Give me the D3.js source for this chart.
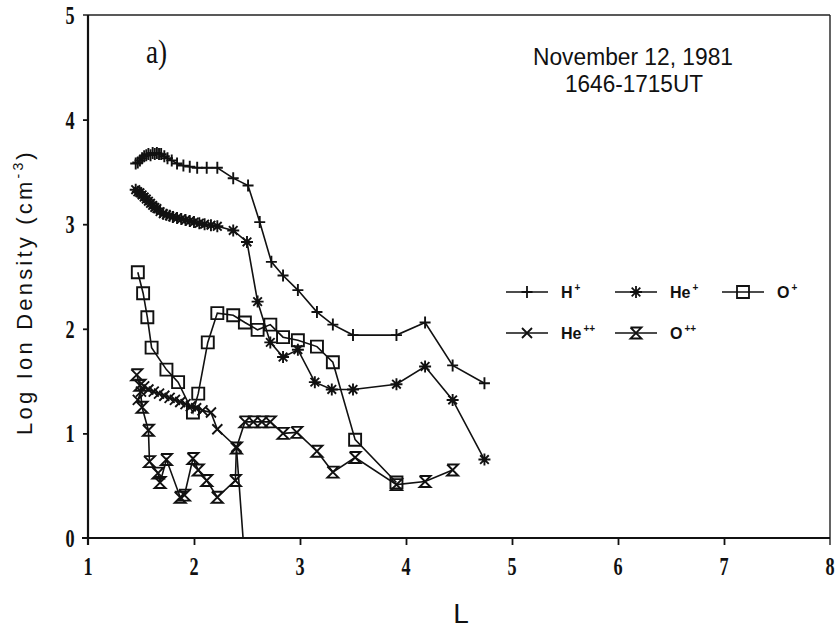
<!DOCTYPE html>
<html>
<head>
<meta charset="utf-8">
<script src="https://cdn.jsdelivr.net/npm/d3@7"></script>
<style>
  body { margin: 0; background: #fff; }
  svg { display: block; }
</style>
</head>
<body>
<script>
// ion density profiles vs L, Nov 12 1981
var hpL = [1.45,1.47,1.49,1.51,1.53,1.55,1.57,1.59,1.61,1.63,1.65,1.67,1.69,1.72,1.75,1.79,1.84,1.90,1.96,2.03,2.12,2.22,2.37,2.51,2.62,2.73,2.84,2.98,3.16,3.31,3.50,3.91,4.18,4.44,4.74];
var hpV = [3.58,3.59,3.61,3.63,3.65,3.66,3.67,3.66,3.68,3.67,3.68,3.67,3.67,3.65,3.63,3.61,3.58,3.56,3.55,3.54,3.54,3.54,3.44,3.37,3.02,2.64,2.51,2.37,2.16,2.04,1.94,1.94,2.06,1.65,1.48];

var hepL = [1.45,1.47,1.49,1.51,1.53,1.55,1.57,1.59,1.61,1.63,1.65,1.68,1.71,1.74,1.77,1.80,1.84,1.88,1.92,1.96,2.00,2.05,2.10,2.16,2.22,2.37,2.50,2.60,2.72,2.84,2.98,3.14,3.30,3.50,3.91,4.18,4.44,4.74];
var hepV = [3.33,3.31,3.30,3.28,3.26,3.24,3.22,3.20,3.18,3.16,3.15,3.12,3.10,3.09,3.08,3.07,3.06,3.05,3.04,3.03,3.02,3.01,3.00,2.99,2.98,2.94,2.83,2.26,1.87,1.73,1.80,1.49,1.42,1.42,1.47,1.64,1.32,0.75];

var opL = [1.47,1.52,1.56,1.60,1.74,1.85,1.99,2.04,2.13,2.22,2.37,2.48,2.60,2.72,2.84,2.98,3.16,3.31,3.52,3.91];
var opV = [2.54,2.34,2.11,1.82,1.61,1.49,1.20,1.38,1.87,2.15,2.13,2.06,1.99,2.04,1.92,1.89,1.83,1.68,0.94,0.53];

var heppL = [1.47,1.50,1.53,1.57,1.62,1.67,1.72,1.77,1.82,1.87,1.92,1.97,2.02,2.08,2.16,2.22,2.40,2.47];
var heppV = [1.32,1.40,1.45,1.42,1.40,1.38,1.36,1.34,1.32,1.30,1.28,1.26,1.24,1.22,1.20,1.04,0.87,-0.1];

var oppL = [1.46,1.49,1.51,1.57,1.58,1.66,1.68,1.74,1.87,1.91,1.99,2.04,2.12,2.22,2.39,2.40,2.48,2.56,2.64,2.72,2.84,2.97,3.16,3.31,3.52,3.91,4.18,4.44];
var oppV = [1.56,1.46,1.25,1.03,0.73,0.62,0.53,0.75,0.39,0.41,0.76,0.65,0.55,0.39,0.55,0.86,1.11,1.11,1.11,1.11,1.00,1.01,0.83,0.63,0.77,0.51,0.54,0.65];

var xTicks = [1,2,3,4,5,6,7,8];
var yTicks = [0,1,2,3,4,5];

var ions = [
  {name: "H", sup: "+", L: hpL, v: hpV, sym: "plus", row: 0, col: 0},
  {name: "He", sup: "+", L: hepL, v: hepV, sym: "star", row: 0, col: 1},
  {name: "O", sup: "+", L: opL, v: opV, sym: "square", row: 0, col: 2},
  {name: "He", sup: "++", L: heppL, v: heppV, sym: "cross", row: 1, col: 0},
  {name: "O", sup: "++", L: oppL, v: oppV, sym: "hourglass", row: 1, col: 1}
];

var width = 835, height = 632;
var plotLeft = 88, plotRight = 830, plotTop = 15, plotBottom = 538;

var svg = d3.select("body").append("svg")
  .attr("width", width)
  .attr("height", height);

var x = d3.scaleLinear().domain([1, 8]).range([plotLeft, plotRight]);
var y = d3.scaleLinear().domain([0, 5]).range([plotBottom, plotTop]);

//marker shapes
var symPath = {
  plus: "M0,-6V6M-5.5,0H5.5",
  star: "M0,-6V6M-6,0H6M-4.3,-4.3L4.3,4.3M-4.3,4.3L4.3,-4.3",
  square: "M-6,-6H6V6H-6Z",
  cross: "M-5,-5L5,5M-5,5L5,-5",
  hourglass: "M-5.5,-5.5H5.5L-5.5,5.5H5.5L-5.5,-5.5"
};

svg.append("clipPath").attr("id", "plotclip")
  .append("rect")
  .attr("x", plotLeft).attr("y", plotTop)
  .attr("width", plotRight - plotLeft).attr("height", plotBottom - plotTop);

//frame
svg.append("line").attr("x1", 83).attr("x2", plotRight).attr("y1", plotTop).attr("y2", plotTop)
  .attr("stroke", "#222").attr("stroke-width", 1.4);
svg.append("line").attr("x1", plotRight).attr("x2", plotRight).attr("y1", plotTop).attr("y2", plotBottom + 7)
  .attr("stroke", "#222").attr("stroke-width", 1.4);
svg.append("line").attr("x1", plotLeft).attr("x2", plotLeft).attr("y1", plotTop).attr("y2", plotBottom + 7)
  .attr("stroke", "#111").attr("stroke-width", 2.2);
svg.append("line").attr("x1", 82).attr("x2", plotRight).attr("y1", plotBottom).attr("y2", plotBottom)
  .attr("stroke", "#111").attr("stroke-width", 2.2);

//axes (tick marks only, labels drawn below)
svg.append("g")
  .attr("transform", "translate(0," + plotBottom + ")")
  .call(d3.axisBottom(x).tickValues(xTicks.slice(1, -1)).tickSize(7).tickSizeOuter(0).tickFormat(""));
svg.append("g")
  .attr("transform", "translate(" + plotLeft + ",0)")
  .call(d3.axisLeft(y).tickValues(yTicks.slice(1, -1)).tickSize(5).tickSizeOuter(0).tickFormat(""));
svg.selectAll(".domain").remove();
svg.selectAll(".tick line").attr("stroke", "#111").attr("stroke-width", 1.8);

svg.selectAll(".xlab")
  .data(xTicks)
  .enter().append("text")
  .attr("class", "xlab")
  .attr("transform", function(d){ return "translate(" + x(d) + ",575) scale(0.7,1)"; })
  .attr("text-anchor", "middle")
  .style("font-family", "'Liberation Serif', serif")
  .style("font-size", "26px")
  .style("font-weight", "bold")
  .style("fill", "#111")
  .text(function(d){ return d; });

svg.selectAll(".ylab")
  .data(yTicks)
  .enter().append("text")
  .attr("class", "ylab")
  .attr("transform", function(d){ return "translate(70," + (y(d) + 9) + ") scale(0.7,1)"; })
  .attr("text-anchor", "middle")
  .style("font-family", "'Liberation Serif', serif")
  .style("font-size", "26px")
  .style("font-weight", "bold")
  .style("fill", "#111")
  .text(function(d){ return d; });

//axis titles
svg.append("text")
  .attr("x", 461).attr("y", 623)
  .attr("text-anchor", "middle")
  .style("font-family", "'Liberation Sans', Arial, sans-serif")
  .style("font-size", "28px")
  .style("fill", "#111")
  .text("L");

var ytitle = svg.append("text")
  .attr("transform", "translate(32,292) rotate(-90)")
  .attr("text-anchor", "middle")
  .style("font-family", "'Liberation Sans', Arial, sans-serif")
  .style("font-size", "22px")
  .style("letter-spacing", "3.2px")
  .style("fill", "#111");
ytitle.append("tspan").text("Log Ion Density (cm");
ytitle.append("tspan").attr("dy", -9).style("font-size", "14px").text("-3");
ytitle.append("tspan").attr("dy", 9).text(")");

//panel label and date
svg.append("text")
  .attr("transform", "translate(146,63) scale(0.8,1)")
  .style("font-family", "'Liberation Serif', serif")
  .style("font-size", "34px")
  .style("fill", "#111")
  .text("a)");

svg.append("text")
  .attr("x", 633).attr("y", 65)
  .attr("text-anchor", "middle")
  .attr("textLength", 200).attr("lengthAdjust", "spacingAndGlyphs")
  .style("font-family", "'Liberation Sans', Arial, sans-serif")
  .style("font-size", "23px")
  .style("fill", "#111")
  .text("November 12, 1981");
svg.append("text")
  .attr("x", 634).attr("y", 92)
  .attr("text-anchor", "middle")
  .attr("textLength", 138).attr("lengthAdjust", "spacingAndGlyphs")
  .style("font-family", "'Liberation Sans', Arial, sans-serif")
  .style("font-size", "23px")
  .style("fill", "#111")
  .text("1646-1715UT");

//data lines and markers
var plot = svg.append("g").attr("clip-path", "url(#plotclip)");
var line = d3.line()
  .x(function(d){ return x(d[0]); })
  .y(function(d){ return y(d[1]); });

ions.forEach(function(ion){
  var pts = d3.zip(ion.L, ion.v);
  plot.append("path")
    .datum(pts)
    .attr("d", line)
    .attr("fill", "none")
    .attr("stroke", "#111")
    .attr("stroke-width", 1.6);
  plot.selectAll(null)
    .data(pts)
    .enter().append("path")
    .attr("transform", function(d){ return "translate(" + x(d[0]) + "," + y(d[1]) + ")"; })
    .attr("d", symPath[ion.sym])
    .attr("fill", "none")
    .attr("stroke", "#111")
    .attr("stroke-width", 1.9);
});

//legend
var colX = [506, 615, 722], rowY = [292, 333];
ions.forEach(function(ion){
  var gx = colX[ion.col], gy = rowY[ion.row];
  var g = svg.append("g").attr("transform", "translate(" + gx + "," + gy + ")");
  g.append("line").attr("x1", 0).attr("x2", 42).attr("y1", 0).attr("y2", 0)
    .attr("stroke", "#111").attr("stroke-width", 1.6);
  g.append("path").attr("transform", "translate(21,0)")
    .attr("d", symPath[ion.sym])
    .attr("fill", "none").attr("stroke", "#111").attr("stroke-width", 1.8);
  var t = g.append("text").attr("x", 55).attr("y", 6)
    .style("font-family", "'Liberation Sans', Arial, sans-serif")
    .style("font-size", "16px")
    .style("font-weight", "bold")
    .style("fill", "#111");
  t.append("tspan").text(ion.name);
  t.append("tspan").attr("dy", -7).attr("dx", 2).style("font-size", "10px").text(ion.sup);
});
</script>
</body>
</html>
